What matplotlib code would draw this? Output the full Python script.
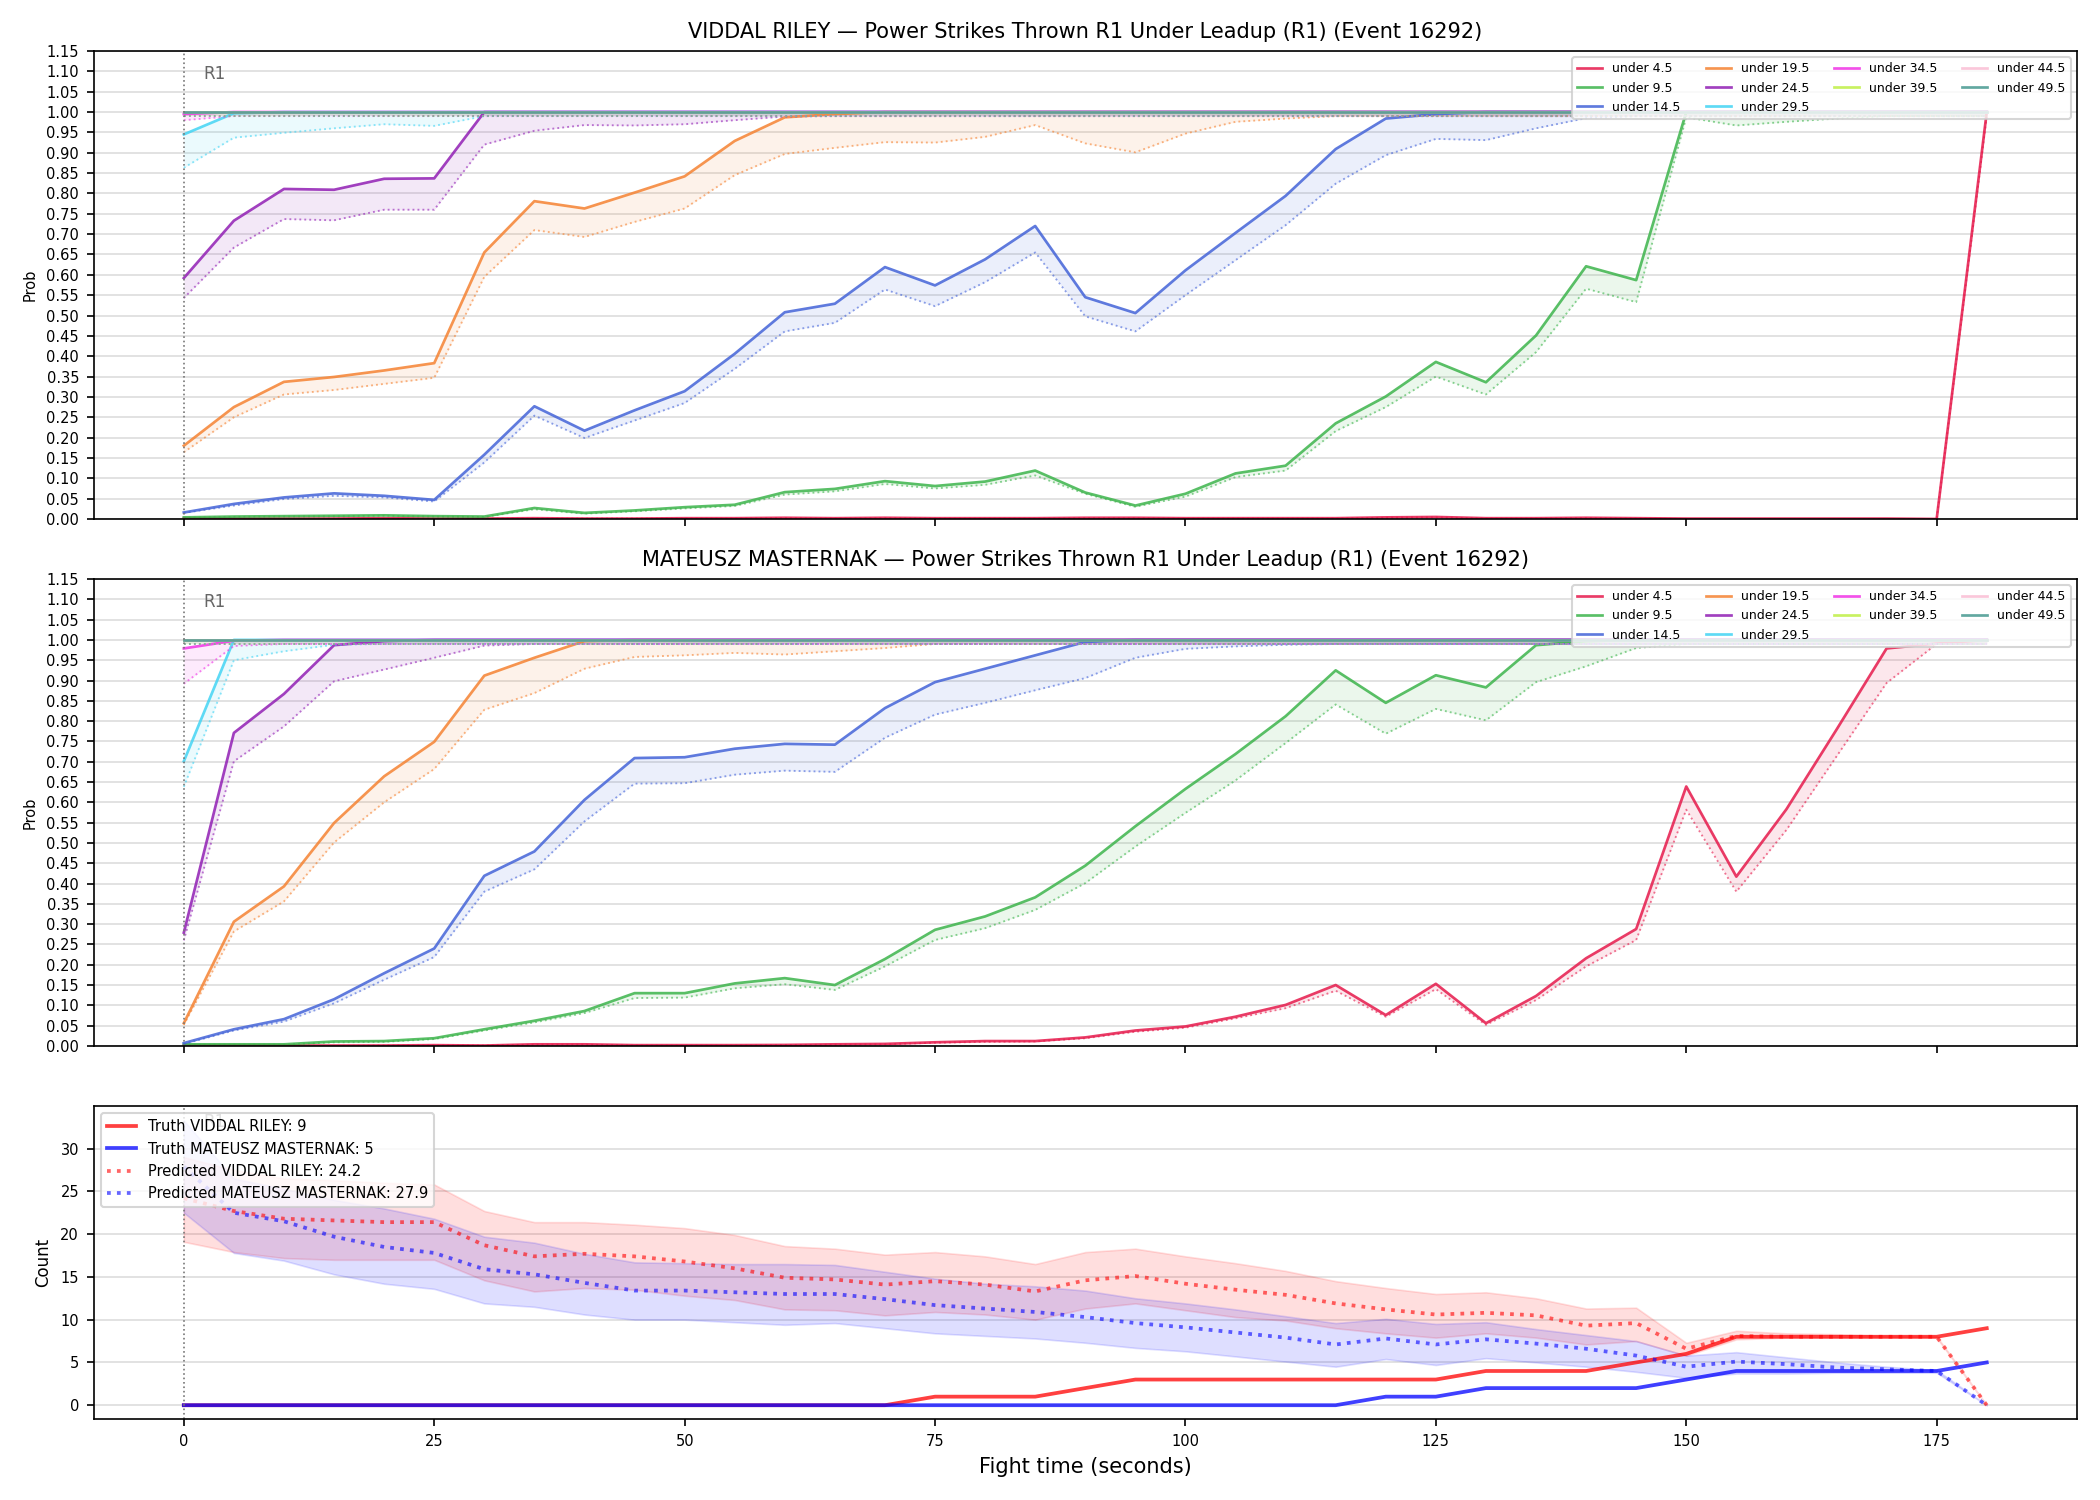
import matplotlib
matplotlib.use("Agg")
import matplotlib.pyplot as plt
import numpy as np

# ---------------- data ----------------
times = [0, 5, 10, 15, 20, 25, 30, 35, 40, 45, 50, 55, 60, 65, 70, 75, 80, 85, 90,
         95, 100, 105, 110, 115, 120, 125, 130, 135, 140, 145, 150, 155, 160, 165, 170, 175, 180]

thresholds = ["4.5", "9.5", "14.5", "19.5", "24.5", "29.5", "34.5", "39.5", "44.5", "49.5"]
colors = ["#e6194b", "#3cb44b", "#4363d8", "#f58231", "#911eb4", "#42d4f4",
          "#f032e6", "#bfef45", "#fabed4", "#469990"]

ONE = [1.0] * 37
NINE9 = [0.99] * 37

# VIDDAL RILEY
vr_u4 = [0.001, 0.001, 0.001, 0.001, 0.002, 0.001, 0.001, 0.002, 0.001, 0.001, 0.002, 0.002, 0.003,
         0.002, 0.003, 0.002, 0.002, 0.002, 0.003, 0.003, 0.002, 0.002, 0.002, 0.002, 0.004, 0.005,
         0.002, 0.002, 0.003, 0.002, 0.001, 0.001, 0.001, 0.001, 0.001, 0.000, 1.000]
vr_u4_lo = [0.000, 0.000, 0.000, 0.001, 0.001, 0.001, 0.001, 0.001, 0.001, 0.001, 0.001, 0.001, 0.002,
            0.001, 0.002, 0.001, 0.001, 0.001, 0.002, 0.002, 0.001, 0.001, 0.001, 0.001, 0.003, 0.004,
            0.001, 0.001, 0.002, 0.001, 0.000, 0.000, 0.000, 0.000, 0.000, 0.000, 0.990]
vr_u9 = [0.004, 0.006, 0.007, 0.008, 0.009, 0.007, 0.006, 0.027, 0.015, 0.021, 0.029, 0.035, 0.066,
         0.074, 0.093, 0.081, 0.092, 0.119, 0.065, 0.033, 0.062, 0.112, 0.131, 0.235, 0.301, 0.386,
         0.336, 0.451, 0.621, 0.587, 1.0, 1.0, 1.0, 1.0, 1.0, 1.0, 1.0]
vr_u9_lo = [0.003, 0.005, 0.006, 0.007, 0.008, 0.006, 0.005, 0.024, 0.013, 0.019, 0.026, 0.032, 0.060,
            0.068, 0.086, 0.075, 0.084, 0.107, 0.062, 0.030, 0.055, 0.103, 0.119, 0.216, 0.275, 0.350,
            0.306, 0.410, 0.566, 0.533, 0.987, 0.967, 0.976, 0.984, 0.99, 0.99, 0.99]
vr_u14 = [0.016, 0.037, 0.053, 0.063, 0.057, 0.047, 0.158, 0.277, 0.217, 0.267, 0.314, 0.406, 0.508,
          0.529, 0.619, 0.574, 0.638, 0.720, 0.545, 0.506, 0.611, 0.703, 0.794, 0.909, 0.984, 0.995,
          1.0, 1.0, 1.0, 1.0, 1.0, 1.0, 1.0, 1.0, 1.0, 1.0, 1.0]
vr_u14_lo = [0.015, 0.033, 0.049, 0.057, 0.053, 0.043, 0.139, 0.254, 0.199, 0.242, 0.285, 0.369, 0.461,
             0.482, 0.564, 0.523, 0.582, 0.655, 0.498, 0.461, 0.550, 0.636, 0.722, 0.824, 0.894, 0.934,
             0.931, 0.960, 0.985, 0.99, 0.99, 0.99, 0.99, 0.99, 0.99, 0.99, 0.99]
vr_u19 = [0.180, 0.275, 0.337, 0.349, 0.365, 0.383, 0.655, 0.781, 0.763, 0.802, 0.842, 0.929, 0.987,
          0.995, 1.0, 1.0, 1.0, 1.0, 1.0, 1.0, 1.0, 1.0, 1.0, 1.0, 1.0, 1.0,
          1.0, 1.0, 1.0, 1.0, 1.0, 1.0, 1.0, 1.0, 1.0, 1.0, 1.0]
vr_u19_lo = [0.164, 0.250, 0.306, 0.317, 0.332, 0.347, 0.595, 0.710, 0.693, 0.730, 0.763, 0.845, 0.897,
             0.912, 0.926, 0.925, 0.939, 0.968, 0.923, 0.901, 0.947, 0.976, 0.984, 0.99, 0.99, 0.99,
             0.99, 0.99, 0.99, 0.99, 0.99, 0.99, 0.99, 0.99, 0.99, 0.99, 0.99]
vr_u24 = [0.592, 0.733, 0.811, 0.809, 0.836, 0.837, 1.0, 1.0, 1.0, 1.0, 1.0, 1.0, 1.0,
          1.0, 1.0, 1.0, 1.0, 1.0, 1.0, 1.0, 1.0, 1.0, 1.0, 1.0, 1.0, 1.0,
          1.0, 1.0, 1.0, 1.0, 1.0, 1.0, 1.0, 1.0, 1.0, 1.0, 1.0]
vr_u24_lo = [0.543, 0.667, 0.737, 0.734, 0.760, 0.760, 0.920, 0.954, 0.968, 0.967, 0.970, 0.980, 0.989,
             0.99, 0.99, 0.99, 0.99, 0.99, 0.99, 0.99, 0.99, 0.99, 0.99, 0.99, 0.99, 0.99,
             0.99, 0.99, 0.99, 0.99, 0.99, 0.99, 0.99, 0.99, 0.99, 0.99, 0.99]
vr_u29 = [0.945, 0.997, 1.0, 1.0, 1.0, 1.0, 1.0, 1.0, 1.0, 1.0, 1.0, 1.0, 1.0,
          1.0, 1.0, 1.0, 1.0, 1.0, 1.0, 1.0, 1.0, 1.0, 1.0, 1.0, 1.0, 1.0,
          1.0, 1.0, 1.0, 1.0, 1.0, 1.0, 1.0, 1.0, 1.0, 1.0, 1.0]
vr_u29_lo = [0.863, 0.937, 0.949, 0.960, 0.970, 0.966, 0.99, 0.99, 0.99, 0.99, 0.99, 0.99, 0.99,
             0.99, 0.99, 0.99, 0.99, 0.99, 0.99, 0.99, 0.99, 0.99, 0.99, 0.99, 0.99, 0.99,
             0.99, 0.99, 0.99, 0.99, 0.99, 0.99, 0.99, 0.99, 0.99, 0.99, 0.99]
vr_u34 = [0.995, 1.0, 1.0, 1.0, 1.0, 1.0, 1.0, 1.0, 1.0, 1.0, 1.0, 1.0, 1.0,
          1.0, 1.0, 1.0, 1.0, 1.0, 1.0, 1.0, 1.0, 1.0, 1.0, 1.0, 1.0, 1.0,
          1.0, 1.0, 1.0, 1.0, 1.0, 1.0, 1.0, 1.0, 1.0, 1.0, 1.0]
vr_u34_lo = [0.980, 0.99, 0.99, 0.99, 0.99, 0.99, 0.99, 0.99, 0.99, 0.99, 0.99, 0.99, 0.99,
             0.99, 0.99, 0.99, 0.99, 0.99, 0.99, 0.99, 0.99, 0.99, 0.99, 0.99, 0.99, 0.99,
             0.99, 0.99, 0.99, 0.99, 0.99, 0.99, 0.99, 0.99, 0.99, 0.99, 0.99]

# MATEUSZ MASTERNAK
mm_u4 = [0.001, 0.001, 0.001, 0.001, 0.001, 0.002, 0.001, 0.004, 0.004, 0.002, 0.002, 0.002, 0.0025,
         0.004, 0.005, 0.009, 0.012, 0.012, 0.021, 0.038, 0.048, 0.072, 0.101, 0.150, 0.076, 0.153,
         0.056, 0.123, 0.216, 0.288, 0.639, 0.417, 0.583, 0.779, 0.979, 0.991, 1.0]
mm_u4_lo = [0.000, 0.000, 0.000, 0.000, 0.001, 0.001, 0.001, 0.003, 0.003, 0.001, 0.001, 0.001, 0.002,
            0.003, 0.004, 0.008, 0.010, 0.011, 0.019, 0.035, 0.045, 0.068, 0.093, 0.136, 0.072, 0.140,
            0.052, 0.113, 0.196, 0.261, 0.582, 0.380, 0.532, 0.713, 0.894, 0.990, 0.990]
mm_u9 = [0.004, 0.004, 0.004, 0.011, 0.012, 0.019, 0.041, 0.062, 0.086, 0.130, 0.130, 0.154, 0.167,
         0.150, 0.214, 0.286, 0.319, 0.366, 0.444, 0.541, 0.633, 0.719, 0.812, 0.925, 0.845, 0.913,
         0.883, 0.987, 0.997, 1.0, 1.0, 1.0, 1.0, 1.0, 1.0, 1.0, 1.0]
mm_u9_lo = [0.003, 0.003, 0.003, 0.009, 0.010, 0.017, 0.038, 0.058, 0.081, 0.118, 0.119, 0.142, 0.152,
            0.138, 0.196, 0.261, 0.290, 0.335, 0.401, 0.491, 0.574, 0.654, 0.746, 0.841, 0.769, 0.830,
            0.802, 0.896, 0.935, 0.980, 0.99, 0.99, 0.99, 0.99, 0.99, 0.99, 0.99]
mm_u14 = [0.007, 0.041, 0.066, 0.115, 0.179, 0.240, 0.419, 0.479, 0.606, 0.709, 0.711, 0.732, 0.744,
          0.742, 0.832, 0.896, 0.929, 0.962, 0.995, 1.0, 1.0, 1.0, 1.0, 1.0, 1.0, 1.0,
          1.0, 1.0, 1.0, 1.0, 1.0, 1.0, 1.0, 1.0, 1.0, 1.0, 1.0]
mm_u14_lo = [0.005, 0.038, 0.060, 0.105, 0.163, 0.219, 0.380, 0.435, 0.553, 0.646, 0.647, 0.668, 0.678,
             0.675, 0.759, 0.816, 0.845, 0.876, 0.906, 0.956, 0.978, 0.984, 0.988, 0.99, 0.99, 0.99,
             0.99, 0.99, 0.99, 0.99, 0.99, 0.99, 0.99, 0.99, 0.99, 0.99, 0.99]
mm_u19 = [0.056, 0.306, 0.393, 0.549, 0.664, 0.749, 0.912, 0.956, 0.997, 1.0, 1.0, 1.0, 1.0,
          1.0, 1.0, 1.0, 1.0, 1.0, 1.0, 1.0, 1.0, 1.0, 1.0, 1.0, 1.0, 1.0,
          1.0, 1.0, 1.0, 1.0, 1.0, 1.0, 1.0, 1.0, 1.0, 1.0, 1.0]
mm_u19_lo = [0.052, 0.282, 0.356, 0.501, 0.600, 0.682, 0.828, 0.869, 0.929, 0.958, 0.962, 0.968, 0.964,
             0.972, 0.980, 0.99, 0.99, 0.99, 0.99, 0.99, 0.99, 0.99, 0.99, 0.99, 0.99, 0.99,
             0.99, 0.99, 0.99, 0.99, 0.99, 0.99, 0.99, 0.99, 0.99, 0.99, 0.99]
mm_u24 = [0.279, 0.771, 0.867, 0.987, 0.997, 1.0, 1.0, 1.0, 1.0, 1.0, 1.0, 1.0, 1.0,
          1.0, 1.0, 1.0, 1.0, 1.0, 1.0, 1.0, 1.0, 1.0, 1.0, 1.0, 1.0, 1.0,
          1.0, 1.0, 1.0, 1.0, 1.0, 1.0, 1.0, 1.0, 1.0, 1.0, 1.0]
mm_u24_lo = [0.260, 0.701, 0.787, 0.898, 0.927, 0.956, 0.986, 0.99, 0.99, 0.99, 0.99, 0.99, 0.99,
             0.99, 0.99, 0.99, 0.99, 0.99, 0.99, 0.99, 0.99, 0.99, 0.99, 0.99, 0.99, 0.99,
             0.99, 0.99, 0.99, 0.99, 0.99, 0.99, 0.99, 0.99, 0.99, 0.99, 0.99]
mm_u29 = [0.701, 1.0, 1.0, 1.0, 1.0, 1.0, 1.0, 1.0, 1.0, 1.0, 1.0, 1.0, 1.0,
          1.0, 1.0, 1.0, 1.0, 1.0, 1.0, 1.0, 1.0, 1.0, 1.0, 1.0, 1.0, 1.0,
          1.0, 1.0, 1.0, 1.0, 1.0, 1.0, 1.0, 1.0, 1.0, 1.0, 1.0]
mm_u29_lo = [0.638, 0.950, 0.972, 0.988, 0.99, 0.99, 0.99, 0.99, 0.99, 0.99, 0.99, 0.99, 0.99,
             0.99, 0.99, 0.99, 0.99, 0.99, 0.99, 0.99, 0.99, 0.99, 0.99, 0.99, 0.99, 0.99,
             0.99, 0.99, 0.99, 0.99, 0.99, 0.99, 0.99, 0.99, 0.99, 0.99, 0.99]
mm_u34 = [0.979, 0.998, 1.0, 1.0, 1.0, 1.0, 1.0, 1.0, 1.0, 1.0, 1.0, 1.0, 1.0,
          1.0, 1.0, 1.0, 1.0, 1.0, 1.0, 1.0, 1.0, 1.0, 1.0, 1.0, 1.0, 1.0,
          1.0, 1.0, 1.0, 1.0, 1.0, 1.0, 1.0, 1.0, 1.0, 1.0, 1.0]
mm_u34_lo = [0.892, 0.985, 0.99, 0.99, 0.99, 0.99, 0.99, 0.99, 0.99, 0.99, 0.99, 0.99, 0.99,
             0.99, 0.99, 0.99, 0.99, 0.99, 0.99, 0.99, 0.99, 0.99, 0.99, 0.99, 0.99, 0.99,
             0.99, 0.99, 0.99, 0.99, 0.99, 0.99, 0.99, 0.99, 0.99, 0.99, 0.99]

# Counts panel
truth_vr = [0, 0, 0, 0, 0, 0, 0, 0, 0, 0, 0, 0, 0, 0, 0, 1, 1, 1, 2, 3, 3, 3, 3, 3, 3, 3,
            4, 4, 4, 5, 6, 8, 8, 8, 8, 8, 9]
truth_mm = [0, 0, 0, 0, 0, 0, 0, 0, 0, 0, 0, 0, 0, 0, 0, 0, 0, 0, 0, 0, 0, 0, 0, 0, 1, 1,
            2, 2, 2, 2, 3, 4, 4, 4, 4, 4, 5]
pred_vr = [24.2, 22.7, 21.8, 21.6, 21.4, 21.4, 18.7, 17.4, 17.7, 17.4, 16.8, 16.0, 14.9, 14.7, 14.1,
           14.5, 14.1, 13.3, 14.6, 15.1, 14.2, 13.5, 12.9, 11.9, 11.2, 10.6, 10.8, 10.5, 9.3, 9.6,
           6.6, 8.1, 8.0, 8.0, 8.0, 8.0, 0.0]
pred_vr_hi = [29.0, 27.5, 26.5, 26.3, 26.0, 25.8, 22.7, 21.4, 21.4, 21.1, 20.7, 19.9, 18.6, 18.3, 17.6,
              17.9, 17.4, 16.5, 17.9, 18.3, 17.4, 16.6, 15.7, 14.5, 13.7, 13.0, 13.2, 12.5, 11.3, 11.4,
              7.3, 8.7, 8.4, 8.3, 8.1, 8.05, 0.0]
pred_vr_lo = [19.1, 17.9, 17.2, 17.0, 17.0, 17.0, 14.6, 13.3, 13.7, 13.5, 12.8, 12.3, 11.2, 11.1, 10.5,
              10.9, 10.6, 10.0, 11.3, 11.9, 11.1, 10.3, 9.9, 9.0, 8.4, 7.9, 8.4, 7.9, 7.1, 7.5,
              5.8, 7.7, 7.9, 7.9, 7.9, 7.9, 0.0]
pred_mm = [27.9, 22.5, 21.5, 19.7, 18.5, 17.8, 15.9, 15.3, 14.3, 13.4, 13.4, 13.2, 13.0, 13.0, 12.4,
           11.7, 11.3, 10.9, 10.3, 9.6, 9.1, 8.5, 7.9, 7.1, 7.8, 7.1, 7.7, 7.2, 6.6, 5.8,
           4.5, 5.1, 4.8, 4.4, 4.2, 4.0, 0.0]
pred_mm_hi = [33.3, 26.5, 25.3, 24.0, 23.0, 21.8, 19.7, 19.0, 17.7, 16.7, 16.6, 16.5, 16.5, 16.4, 15.6,
              14.8, 14.2, 13.9, 13.4, 12.5, 11.9, 11.2, 10.4, 9.6, 10.1, 9.5, 9.7, 8.9, 8.2, 7.5,
              5.8, 6.2, 5.6, 5.0, 4.5, 4.1, 0.0]
pred_mm_lo = [22.5, 17.8, 16.9, 15.3, 14.2, 13.6, 11.9, 11.5, 10.6, 10.0, 10.0, 9.7, 9.4, 9.6, 9.0,
              8.4, 8.1, 7.8, 7.3, 6.7, 6.3, 5.7, 5.1, 4.5, 5.4, 4.7, 5.5, 5.0, 4.5, 3.9,
              3.2, 3.7, 3.7, 3.8, 3.8, 3.8, 0.0]

vr_series = [(vr_u4, vr_u4_lo), (vr_u9, vr_u9_lo), (vr_u14, vr_u14_lo), (vr_u19, vr_u19_lo),
             (vr_u24, vr_u24_lo), (vr_u29, vr_u29_lo), (vr_u34, vr_u34_lo),
             (ONE, NINE9), (ONE, NINE9), (ONE, NINE9)]
mm_series = [(mm_u4, mm_u4_lo), (mm_u9, mm_u9_lo), (mm_u14, mm_u14_lo), (mm_u19, mm_u19_lo),
             (mm_u24, mm_u24_lo), (mm_u29, mm_u29_lo), (mm_u34, mm_u34_lo),
             (ONE, NINE9), (ONE, NINE9), (ONE, NINE9)]

name_a = "VIDDAL RILEY"
name_b = "MATEUSZ MASTERNAK"
title_suffix = " — Power Strikes Thrown R1 Under Leadup (R1) (Event 16292)"

# ---------------- figure ----------------
plt.rcParams["font.family"] = ["DejaVu Sans"]
fig = plt.figure(figsize=(14, 10), dpi=150)
ax1 = fig.add_axes([0.0446, 0.654, 0.9444, 0.312])
ax2 = fig.add_axes([0.0446, 0.3027, 0.9444, 0.3113], sharex=ax1)
ax3 = fig.add_axes([0.0446, 0.0537, 0.9444, 0.2089], sharex=ax1)

t = np.array(times)


def prob_panel(ax, series, title):
    for (hi, lo), thr, col in zip(series, thresholds, colors):
        hi = np.array(hi)
        lo = np.array(lo)
        ax.plot(t, hi, color=col, lw=1.3, alpha=0.85, label=f"under {thr}")
        ax.plot(t, lo, color=col, lw=0.9, ls=":", alpha=0.6)
        ax.fill_between(t, lo, hi, color=col, alpha=0.1, lw=0)
    ax.set_ylim(0, 1.15)
    ax.set_yticks(np.round(np.arange(0, 1.151, 0.05), 2))
    ax.yaxis.set_major_formatter(matplotlib.ticker.FormatStrFormatter("%.2f"))
    ax.grid(axis="y", color="#dddddd", lw=0.8)
    ax.set_axisbelow(True)
    ax.axvline(0, color="#777777", ls=":", lw=0.8)
    ax.text(2, 0.95, "R1", transform=ax.get_xaxis_transform(), ha="left", va="center",
            fontsize=8, color="#666666")
    ax.set_ylabel("Prob", fontsize=7)
    ax.set_title(title, fontsize=10)
    ax.legend(loc="upper right", ncol=4, fontsize=6, framealpha=0.8)
    ax.tick_params(labelsize=7)
    plt.setp(ax.get_xticklabels(), visible=False)


prob_panel(ax1, vr_series, name_a + title_suffix)
prob_panel(ax2, mm_series, name_b + title_suffix)

# counts panel
ax3.fill_between(t, pred_vr_lo, pred_vr_hi, color="red", alpha=0.13, lw=0.8)
ax3.fill_between(t, pred_mm_lo, pred_mm_hi, color="blue", alpha=0.13, lw=0.8)
ax3.plot(t, truth_vr, color="red", lw=1.8, alpha=0.75, label=f"Truth {name_a}: {truth_vr[-1]}")
ax3.plot(t, truth_mm, color="blue", lw=1.8, alpha=0.75, label=f"Truth {name_b}: {truth_mm[-1]}")
ax3.plot(t, pred_vr, color="red", lw=1.8, ls=":", alpha=0.6, label=f"Predicted {name_a}: {pred_vr[0]}")
ax3.plot(t, pred_mm, color="blue", lw=1.8, ls=":", alpha=0.6, label=f"Predicted {name_b}: {pred_mm[0]}")
ax3.axvline(0, color="#777777", ls=":", lw=0.8)
ax3.text(2, 0.95, "R1", transform=ax3.get_xaxis_transform(), ha="left", va="center",
         fontsize=8, color="#666666")
ax3.grid(axis="y", color="#dddddd", lw=0.8)
ax3.set_axisbelow(True)
ax3.set_ylabel("Count", fontsize=8)
ax3.set_xlabel("Fight time (seconds)", fontsize=10)
ax3.legend(loc="upper left", fontsize=7, framealpha=0.8)
ax3.tick_params(labelsize=7)
ax3.set_xticks([0, 25, 50, 75, 100, 125, 150, 175])

fig.savefig("out.png", dpi=150)
